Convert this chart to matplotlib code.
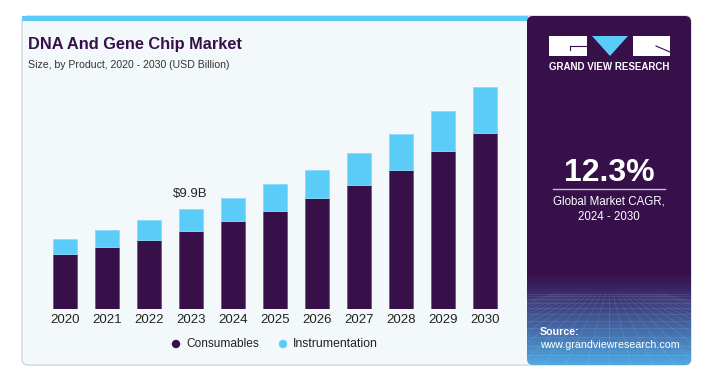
import numpy as np
import matplotlib
matplotlib.use("Agg")
import matplotlib.pyplot as plt
from matplotlib.patches import FancyBboxPatch, Rectangle, Polygon, Circle
from matplotlib.colors import LinearSegmentedColormap

# ---- data ----
years = ["2020", "2021", "2022", "2023", "2024", "2025", "2026", "2027", "2028", "2029", "2030"]
consumables = [5.48, 6.11, 6.86, 7.72, 8.68, 9.70, 10.96, 12.24, 13.80, 15.65, 17.47]
instrumentation = [1.48, 1.74, 1.92, 2.18, 2.28, 2.67, 2.83, 3.21, 3.56, 3.93, 4.55]
highlight_label = "$9.9B"
highlight_year = "2023"
cagr = "12.3%"

PURPLE = "#37104A"
BLUE = "#5BCBF7"
CARD = "#F3F8FB"
FONT = ["Liberation Sans", "DejaVu Sans"]

W, H = 727, 369
fig = plt.figure(figsize=(W / 100, H / 100), dpi=100)
fig.patch.set_facecolor("white")

# background axes in pixel coords
bg = fig.add_axes([0, 0, 1, 1])
bg.set_xlim(0, W)
bg.set_ylim(H, 0)
bg.axis("off")

# card
card = FancyBboxPatch((22, 16), 669, 349, boxstyle="round,pad=0,rounding_size=6",
                      fc=CARD, ec="#D2D6DA", lw=1.0, zorder=0)
bg.add_patch(card)
# top blue strip
bg.add_patch(Rectangle((22, 16), 506, 5, fc=BLUE, ec="none", zorder=1))

# right panel with gradient
panel_top, panel_bot, px0, px1 = 16, 365, 527, 691
grad = np.linspace(0, 1, 256)
cm = LinearSegmentedColormap.from_list("g", [(0, PURPLE), (0.74, PURPLE), (0.80, "#3A2F6E"), (1.0, "#4FA8E2")])
img = bg.imshow(grad[:, None], cmap=cm, aspect="auto",
                extent=(px0, px1, panel_bot, panel_top), zorder=1)
clip = FancyBboxPatch((px0, panel_top), px1 - px0, panel_bot - panel_top,
                      boxstyle="round,pad=0,rounding_size=6", fc="none", ec="none",
                      transform=bg.transData)
bg.add_patch(clip)
img.set_clip_path(clip)
# perspective grid in lower part
gy0 = 294
for k in range(12):
    y = gy0 + (panel_bot - gy0) * (k / 11) ** 1.6
    bg.plot([px0, px1], [y, y], color="white", alpha=0.10, lw=0.6, zorder=2)
cx = (px0 + px1) / 2
for k in range(-14, 15):
    bg.plot([cx + k * 4, cx + k * 22], [gy0, panel_bot], color="white", alpha=0.10, lw=0.6, zorder=2)

# logo
bg.add_patch(Rectangle((549, 36), 38, 20, fc="white", ec="none", zorder=3))
bg.plot([570, 587], [46, 46], color=PURPLE, lw=0.8, zorder=4)
bg.plot([570, 570], [46, 50], color=PURPLE, lw=0.8, zorder=4)
bg.add_patch(Polygon([[592, 36], [628, 36], [610, 56]], closed=True, fc=BLUE, ec="none", zorder=3))
bg.add_patch(Rectangle((633, 36), 37, 20, fc="white", ec="none", zorder=3))
bg.plot([656, 670], [46, 52], color=PURPLE, lw=0.8, zorder=4)
bg.text(609.5, 67, "GRAND VIEW RESEARCH", color="white", fontsize=7, fontweight="bold",
        ha="center", va="center", family=FONT, zorder=4)

# CAGR block
bg.text(609, 173, cagr, color="white", fontsize=23, fontweight="bold", ha="center", va="center",
        family=FONT, zorder=4)
bg.plot([553, 665], [189, 189], color="#C9C0D2", lw=1.0, zorder=4)
bg.text(609, 202, "Global Market CAGR,", color="white", fontsize=8.3, ha="center", va="center",
        family=FONT, zorder=4)
bg.text(609, 217, "2024 - 2030", color="white", fontsize=8.3, ha="center", va="center",
        family=FONT, zorder=4)
bg.text(540, 332, "Source:", color="white", fontsize=7.7, fontweight="bold", ha="left", va="center",
        family=FONT, zorder=4)
bg.text(540, 345, "www.grandviewresearch.com", color="white", fontsize=7.7, ha="left", va="center",
        family=FONT, zorder=4)

# titles
bg.text(28, 45, "DNA And Gene Chip Market", color=PURPLE, fontsize=11.8, fontweight="bold",
        ha="left", va="center", family=FONT)
bg.text(28, 65, "Size, by Product, 2020 - 2030 (USD Billion)", color="#333333", fontsize=7.6,
        ha="left", va="center", family=FONT)

# legend
bg.add_patch(Circle((176, 344), 4.2, fc=PURPLE, ec="none"))
bg.text(186, 344, "Consumables", color="#222222", fontsize=8.6, ha="left", va="center", family=FONT)
bg.add_patch(Circle((283, 344), 4.2, fc=BLUE, ec="none"))
bg.text(293, 344, "Instrumentation", color="#222222", fontsize=8.8, ha="left", va="center", family=FONT)

# ---- bar chart axes ----
base_px, top_px = 309, 60
ax = fig.add_axes([22 / W, (H - base_px) / H, 505 / W, (base_px - top_px) / H])
ax.set_facecolor("none")
x = np.arange(len(years))
ax.set_xlim(-1.017, -1.017 + 505 / 42)
ax.set_ylim(0, (base_px - top_px) / 10.1)
ax.bar(x, consumables, width=0.57, color=PURPLE, edgecolor="#6F5A80", linewidth=0.6, zorder=2)
ax.bar(x, instrumentation, bottom=consumables, width=0.57, color=BLUE, edgecolor="#8ADAF8",
       linewidth=0.6, zorder=2)
for s in ax.spines.values():
    s.set_visible(False)
ax.set_yticks([])
ax.set_xticks(x)
ax.set_xticklabels(years, fontsize=9.5, color="#222222", family=FONT)
ax.tick_params(axis="x", length=0, pad=3.5)
i = years.index(highlight_year)
ax.text(x[i], consumables[i] + instrumentation[i] + 0.85, highlight_label, ha="center", va="bottom",
        fontsize=9.5, color="#222222", family=FONT)

fig.savefig("out.png", dpi=100, facecolor="white")
